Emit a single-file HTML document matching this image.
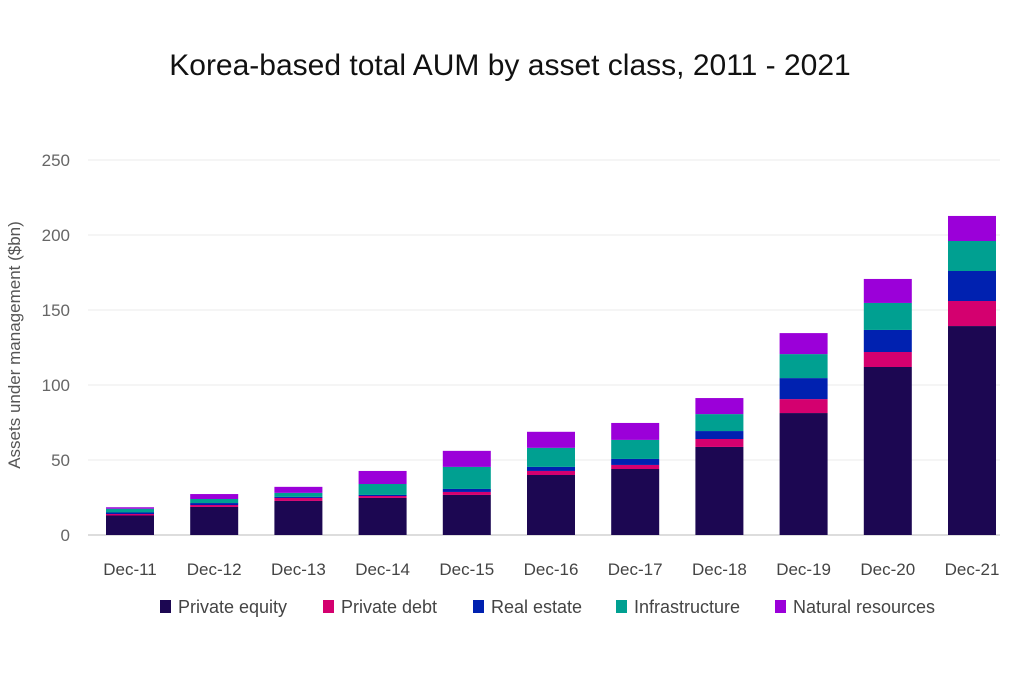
<!DOCTYPE html>
<html><head><meta charset="utf-8"><style>
body{margin:0;background:#fff;width:1024px;height:682px;overflow:hidden;font-family:"Liberation Sans",sans-serif}
svg text{font-family:"Liberation Sans",sans-serif}
</style></head><body>
<svg id="chart" width="1024" height="682" viewBox="0 0 1024 682" xmlns="http://www.w3.org/2000/svg">
<text x="510" y="75" text-anchor="middle" font-size="30" fill="#111">Korea-based total AUM by asset class, 2011 - 2021</text>
<text transform="translate(20,345) rotate(-90)" text-anchor="middle" font-size="17" fill="#555">Assets under management ($bn)</text>
<g id="grid"></g><g id="bars"></g><g id="xlabels"></g><g id="legend"></g>
</svg>
<script>
const categories=["Dec-11","Dec-12","Dec-13","Dec-14","Dec-15","Dec-16","Dec-17","Dec-18","Dec-19","Dec-20","Dec-21"];
const privateEquity=[13,18.7,22.7,24.7,26.7,40,44,58.7,81.3,112,139.3];
const privateDebt=[1,1.3,2,1.3,2,2.7,2.7,5.3,9.3,10,16.7];
const realEstate=[1,1.3,0.7,0.7,2,2.7,4,5.3,14,14.7,20];
const infrastructure=[2.5,2.7,2.7,7.3,14.7,12.7,12.7,11.3,16,18,20];
const naturalResources=[1,3.3,4,8.7,10.7,10.7,11.3,10.7,14,16,16.7];
const yTicks=[0,50,100,150,200,250];
const seriesNames=["Private equity","Private debt","Real estate","Infrastructure","Natural resources"];
const series=[privateEquity,privateDebt,realEstate,infrastructure,naturalResources];
const colors=["#1c0752","#d4006f","#0021b0","#00a091","#9b00d9"];
const NS="http://www.w3.org/2000/svg";
const y0=535,pxPer=1.5,x0=130,step=84.2,bw=48;
const yS=v=>y0-v*pxPer, xS=i=>x0+i*step;
function mk(t,a,p){const e=document.createElementNS(NS,t);for(const k in a)e.setAttribute(k,a[k]);p.appendChild(e);return e;}
const grid=document.getElementById('grid');
yTicks.forEach(v=>{
 const l=mk('line',{x1:88,x2:1000,y1:yS(v),y2:yS(v),stroke:v===0?'#ddd':'#f2f2f2','stroke-width':v===0?2:1.5},grid);
 
 
 const t=mk('text',{x:70,y:yS(v)+6,'text-anchor':'end','font-size':17,fill:'#666'},grid);
 t.textContent=v;
 
 
});
const bars=document.getElementById('bars');
categories.forEach((c,i)=>{
 let cum=0;
 series.forEach((s,k)=>{
  const v=s[i];
  const r=mk('rect',{x:xS(i)-bw/2,y:yS(cum+v),width:bw,height:v*pxPer,fill:colors[k]},bars);
  
  
  cum+=v;
 });
 const t=mk('text',{x:xS(i),y:575,'text-anchor':'middle','font-size':17,fill:'#444'},document.getElementById('xlabels'));
 t.textContent=c;
 
 
});
const lg=document.getElementById('legend');
const lx=[160,323,473,616,775];
seriesNames.forEach((n,k)=>{
 const r=mk('rect',{x:lx[k],y:600,width:11,height:13,fill:colors[k]},lg);
 
 
 const t=mk('text',{x:lx[k]+18,y:613,'font-size':18,fill:'#444'},lg);
 t.textContent=n;
 
 
});
</script>
</body></html>
